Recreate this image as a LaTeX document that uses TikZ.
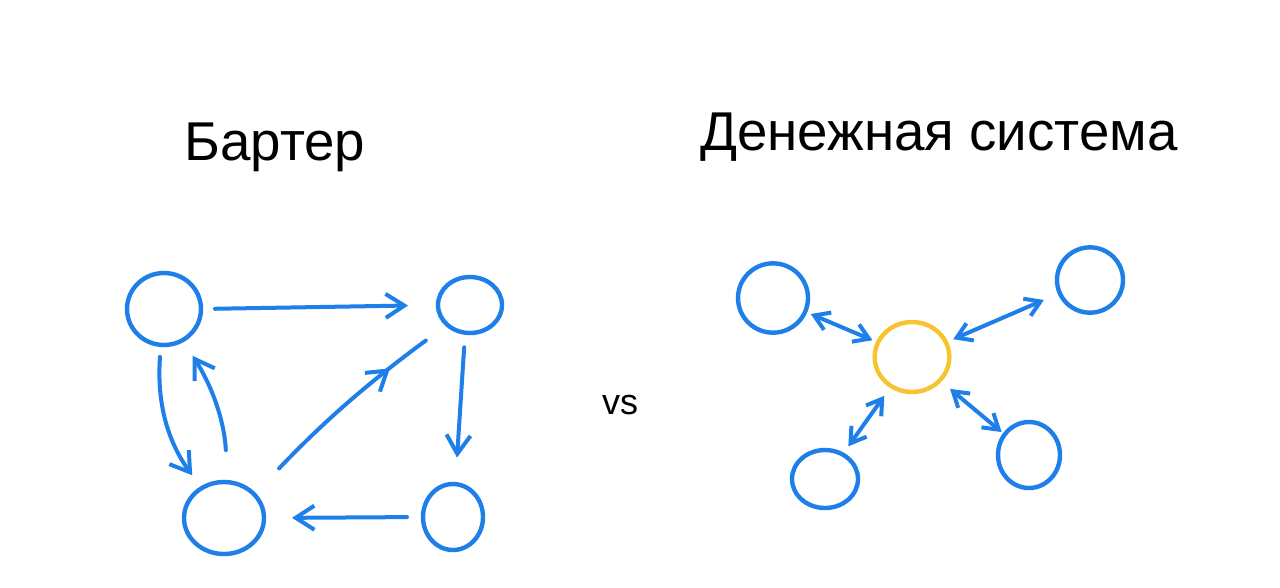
\documentclass[tikz,border=0pt]{standalone}
\usepackage{fontspec}
\setmainfont{Liberation Sans}
\usetikzlibrary{arrows.meta,shapes.geometric,decorations.markings}
\definecolor{pen}{RGB}{30,127,232}
\definecolor{gold}{RGB}{248,196,46}
\begin{document}
\begin{tikzpicture}[x=0.75pt,y=-0.75pt,
  bub/.style={draw=pen,line width=3.3pt,ellipse,inner sep=0pt,outer sep=0pt},
  hub/.style={bub,draw=gold},
  link/.style={draw=pen,line width=3pt,line cap=round,-{Straight Barb[length=14pt,width=18pt]}},
  midlink/.style={draw=pen,line width=3pt,line cap=round,
    decoration={markings,mark=at position #1 with {\arrow{Straight Barb[length=14pt,width=18pt]}}},
    postaction={decorate}},
  twoway/.style={draw=pen,line width=3pt,line cap=round,
    {Straight Barb[length=11pt,width=14pt]}-{Straight Barb[length=11pt,width=14pt]}},
  title/.style={font=\fontsize{41}{45}\selectfont,anchor=base}]
\useasboundingbox (0,0) rectangle (1280,587);
\fill[white] (0,0) rectangle (1280,587);

% titles
\node[title] (barter) at (275,160) {Бартер};
\node[title] (money) at (939,150) {Денежная система};
\node[font=\fontsize{27}{30}\selectfont,anchor=base] (vs) at (620,414) {vs};

% barter nodes
\node[bub,minimum width=55.5pt,minimum height=54pt] (tl) at (164,309) {};
\node[bub,minimum width=48pt,minimum height=42pt] (tr) at (470,305) {};
\node[bub,minimum width=60pt,minimum height=54pt] (bl) at (224,518) {};
\node[bub,minimum width=45pt,minimum height=49.5pt] (br) at (453,517) {};

\draw[link,shorten <=10.5pt,shorten >=22.5pt] (tl.east) -- (tr.west);
\draw[link,shorten <=11pt,shorten >=20pt] (tr.260) -- (br.86);
\draw[link,shorten <=12pt,shorten >=21pt] (br.west) -- (bl.east);
\draw[link,shorten <=9pt,shorten >=12pt] (tl.265) to[bend right=20] (bl.127);
\draw[link,shorten <=24pt,shorten >=14pt] (bl.85) to[bend right=15] (tl.301);
\draw[midlink=0.72,shorten <=27pt,shorten >=20pt] (bl.38) to[bend left=5] (tr.221);

% money system nodes
\node[hub,minimum width=56pt,minimum height=52.5pt] (c) at (912,357) {};
\node[bub,minimum width=52.5pt,minimum height=52pt] (m1) at (773,298) {};
\node[bub,minimum width=49.5pt,minimum height=49pt] (m2) at (1090,280) {};
\node[bub,minimum width=49.5pt,minimum height=43.5pt] (m3) at (825,479) {};
\node[bub,minimum width=46.5pt,minimum height=49.5pt] (m4) at (1029,455) {};

\draw[twoway,shorten <=4.5pt,shorten >=4.5pt] (m1) -- (c);
\draw[twoway,shorten <=6pt,shorten >=13pt] (c) -- (m2);
\draw[twoway,shorten <=9pt,shorten >=7.5pt] (c) -- (m3);
\draw[twoway,shorten <=10pt,shorten >=3pt] (c) -- (m4);
\end{tikzpicture}
\end{document}
